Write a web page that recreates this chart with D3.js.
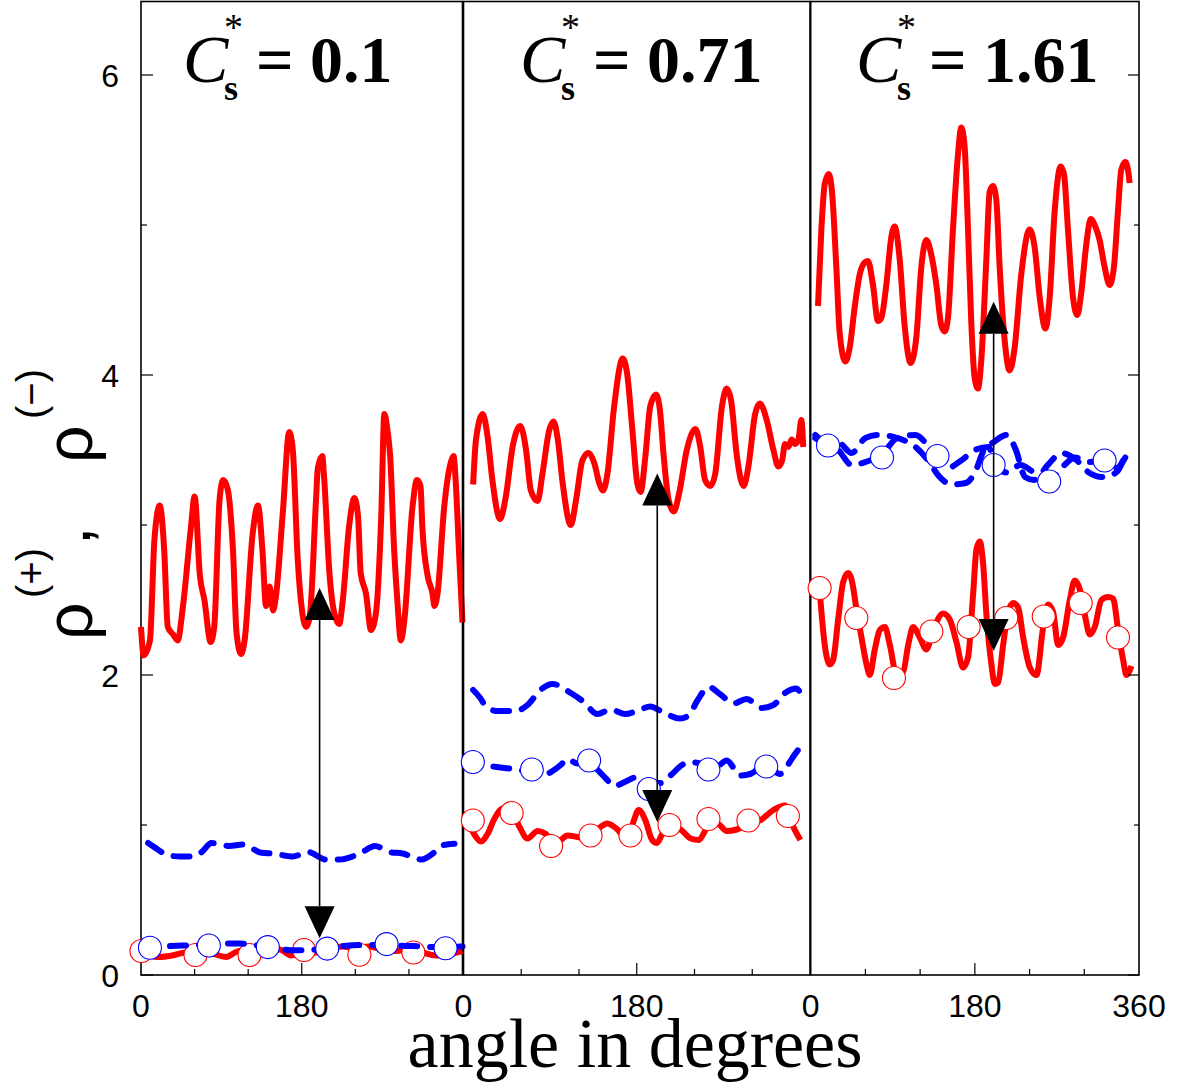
<!DOCTYPE html>
<html><head><meta charset="utf-8">
<script src="https://cdn.jsdelivr.net/npm/d3@7"></script>
<style>body{margin:0;background:#fff} svg{display:block}</style>
</head><body>
<svg id="chart" width="1184" height="1089"></svg>
<script>
// ---------------- DATA ----------------
const panelValues = ["0.1", "0.71", "1.61"];
const xTickLabels = [["0", "180"], ["0", "180"], ["0", "180", "360"]];
const xTickAngles = [[0, 180], [0, 180], [0, 180, 360]];
const xMinorTicks = [60, 120, 240, 300];
const xMajorTicks = [180];
const yMajorTicks = [0, 2, 4, 6];
const yMinorTicks = [1, 3, 5];
const yTickLabels = ["0", "2", "4", "6"];

// Panel 1 (C*s = 0.1)  [angle, rho]
const p1RedTop = [[0,2.32],[3,2.13],[10,2.23],[15,2.9],[21,3.13],[26,2.83],[30,2.32],[36,2.27],[41,2.23],[47,2.46],[56,2.99],[60,3.19],[66,2.66],[71,2.5],[78,2.22],[82,2.32],[88,3.17],[92,3.3],[97,3.24],[103,2.83],[107,2.28],[112,2.14],[116,2.23],[125,2.94],[131,3.13],[136,2.83],[140,2.46],[144,2.59],[148,2.43],[151,2.52],[159,3.1],[166,3.62],[170,3.5],[175.5,2.77],[179,2.5],[185,2.32],[189,2.39],[196,3.17],[198,3.38],[203,3.46],[205,3.32],[211,2.68],[216.5,2.41],[222,2.34],[226,2.5],[233,2.99],[239,3.18],[243,3.06],[246,2.68],[252,2.54],[257.5,2.3],[263,2.41],[269,3.06],[272.5,3.74],[276,3.63],[279,3.46],[283.5,2.83],[287,2.5],[291,2.23],[295,2.37],[304,3.12],[309,3.3],[313,3.26],[315,2.99],[321,2.66],[326.5,2.54],[328.5,2.46],[332,2.54],[339.5,3.12],[347,3.42],[350,3.46],[352.5,3.28],[356,2.83],[360,2.35]];
const p1BlueTop = [[8,0.88],[18,0.84],[29,0.8],[44,0.79],[58,0.79],[68,0.82],[79,0.88],[99,0.86],[114,0.87],[135,0.815],[148,0.81],[170,0.79],[187,0.82],[207,0.77],[222,0.77],[245,0.81],[262,0.86],[278,0.82],[293,0.81],[314,0.77],[329,0.82],[338,0.865],[351,0.875]];
const p1RedLow = [[0,0.15],[10,0.13],[20,0.12],[35,0.13],[50,0.15],[65,0.14],[80,0.14],[95,0.12],[110,0.16],[125,0.15],[140,0.17],[155,0.17],[168,0.13],[180,0.15],[195,0.15],[210,0.17],[225,0.19],[240,0.18],[255,0.19],[270,0.17],[285,0.16],[300,0.17],[315,0.15],[330,0.13],[345,0.14],[360,0.16]];
const p1RedMarks = [[0.5,0.16],[61,0.133],[121.5,0.133],[182.5,0.167],[244.5,0.135],[305,0.15]];
const p1BlueLow = [[0,0.19],[20,0.19],[40,0.195],[60,0.2],[85,0.21],[110,0.21],[125,0.2],[145,0.19],[160,0.17],[175,0.165],[190,0.167],[210,0.18],[230,0.195],[250,0.2],[270,0.2],[290,0.195],[305,0.193],[325,0.186],[345,0.19],[360,0.19]];
const p1BlueMarks = [[10,0.182],[76,0.197],[142,0.186],[208.5,0.176],[275,0.206],[341,0.178]];

// Panel 2 (C*s = 0.71)
const p2RedTop = [[10,3.27],[13,3.57],[20,3.74],[25,3.59],[30,3.3],[38,3.04],[44,3.19],[51,3.52],[59,3.66],[65,3.5],[70,3.23],[77,3.16],[82,3.34],[89,3.63],[93.5,3.69],[98,3.57],[103,3.28],[111.5,3.0],[117,3.17],[123.5,3.43],[130,3.48],[136,3.41],[141,3.28],[145,3.23],[149.5,3.34],[156.5,3.79],[165.5,4.11],[170,4.01],[175.5,3.63],[180.5,3.28],[184,3.22],[189,3.46],[194,3.79],[200,3.87],[204,3.77],[208,3.46],[213,3.17],[218.5,3.09],[224,3.21],[232,3.5],[241,3.64],[246,3.52],[251,3.3],[256.5,3.26],[261.5,3.34],[268.5,3.79],[273.5,3.91],[278,3.83],[284,3.46],[291,3.26],[296,3.39],[303,3.74],[308,3.81],[315,3.7],[322,3.5],[327,3.39],[331,3.43],[334,3.54],[337.5,3.52],[341,3.57],[344.5,3.54],[348,3.57],[351,3.7],[353,3.52]];
const p2BlueTop = [[10,1.9],[17,1.85],[23.5,1.79],[35.5,1.76],[54.5,1.76],[66.5,1.8],[80,1.9],[92.5,1.94],[111.5,1.88],[125,1.82],[139,1.74],[153,1.77],[168,1.74],[184,1.77],[194,1.79],[205,1.76],[225,1.71],[234,1.73],[243,1.83],[255,1.92],[267,1.87],[280.5,1.81],[294,1.84],[310,1.78],[322,1.8],[334,1.88],[346,1.91],[350,1.88]];
const p2RedLow = [[3,1.04],[11,0.94],[18,0.89],[25,0.94],[32,1.04],[41,1.11],[49.5,1.1],[58,0.99],[66.5,0.91],[77,0.96],[85.5,0.94],[94,0.88],[101,0.9],[108,0.93],[118.5,0.92],[128.5,0.91],[139,0.97],[149.5,1.01],[160,0.97],[170,0.9],[177,1.03],[182,1.1],[189,1.03],[196,0.9],[201,0.88],[206.5,0.94],[215,0.99],[225.5,0.97],[236,0.91],[244.5,0.9],[253,0.98],[263.5,1.01],[273.5,0.96],[284,0.97],[294.5,1.0],[308,1.03],[322,1.1],[334,1.13],[342.5,0.99],[350,0.9]];
const p2RedMarks = [[9.7,1.03],[50,1.08],[91,0.86],[132,0.93],[173.5,0.93],[214,1.0],[254.5,1.04],[296,1.03],[337,1.06]];
const p2BlueLow = [[1,1.4],[18,1.4],[30,1.39],[42.5,1.38],[58,1.37],[70,1.34],[82.5,1.33],[92.5,1.36],[101,1.4],[108,1.44],[118.5,1.41],[130.5,1.43],[139,1.37],[148,1.31],[156.5,1.26],[168.5,1.29],[180.5,1.32],[192.5,1.28],[204.5,1.28],[215,1.33],[227,1.4],[234,1.42],[246,1.41],[254.5,1.37],[264,1.39],[273.5,1.43],[287.5,1.33],[298,1.34],[313.5,1.4],[329,1.34],[339,1.42],[343,1.46],[350,1.52]];
const p2BlueMarks = [[9.7,1.42],[71,1.37],[130.5,1.43],[192.5,1.24],[254.5,1.37],[314.5,1.39]];

// Panel 3 (C*s = 1.61)
const p3RedTop = [[8,4.46],[11.7,4.97],[15.3,5.27],[19.7,5.34],[23.4,5.22],[28.1,4.72],[31.8,4.28],[38,4.09],[42.7,4.18],[48.2,4.45],[53.7,4.67],[59.2,4.75],[62.8,4.76],[68.3,4.6],[73.8,4.36],[77.4,4.38],[82.9,4.6],[88.4,4.92],[92,4.99],[97.6,4.77],[103,4.33],[109.6,4.08],[115.8,4.25],[121.3,4.72],[126.8,4.9],[132.3,4.8],[137.8,4.6],[143.2,4.33],[146.9,4.29],[150.5,4.38],[156,4.97],[161.5,5.47],[165.2,5.65],[168.8,5.52],[172.5,4.97],[176.1,4.35],[179.8,3.98],[183.4,3.91],[187.1,4.1],[192.6,4.77],[196.2,5.22],[199.9,5.26],[203.5,5.17],[207.2,4.72],[212.7,4.23],[218.2,4.03],[223.6,4.18],[230.9,4.67],[240.1,4.97],[245.6,4.85],[251.1,4.52],[257.3,4.31],[262.1,4.52],[267.5,5.09],[274.1,5.39],[277.7,5.34],[282.1,4.97],[287.6,4.52],[292.3,4.4],[296.7,4.55],[302.2,4.87],[307,5.04],[312.1,4.99],[316.8,4.9],[322.3,4.72],[327.8,4.6],[332.5,4.72],[336.9,5.09],[340.6,5.37],[345,5.42],[348.6,5.34],[349.7,5.28]];
const p3BlueTop = [[5,3.58],[15,3.55],[30,3.55],[45,3.48],[60,3.58],[75,3.6],[95,3.58],[115,3.52],[130,3.42],[140,3.33],[155,3.27],[170,3.28],[180,3.35],[190,3.5],[200,3.55],[215,3.6],[225,3.5],[235,3.32],[245,3.3],[260,3.4],[275,3.48],[290,3.44],[305,3.35],[320,3.32],[335,3.35],[345,3.47]];
const p3RedLow = [[10,2.55],[15.4,2.2],[20.9,2.07],[24.6,2.1],[30.1,2.37],[35.6,2.62],[41.1,2.68],[44.7,2.64],[50.2,2.44],[55.7,2.25],[61.2,2.07],[64.8,2.0],[70.3,2.17],[75.8,2.3],[81.3,2.32],[86.8,2.2],[94.1,2.0],[101.4,2.02],[106.9,2.2],[112.3,2.32],[119.6,2.25],[126.9,2.17],[134.3,2.3],[145.2,2.41],[152.5,2.37],[159.8,2.22],[167.1,2.05],[172.6,2.12],[178.1,2.54],[181.8,2.84],[185.4,2.89],[189.1,2.74],[192.7,2.4],[198.2,2.07],[201.9,1.94],[205.5,1.95],[211,2.2],[216.5,2.42],[222,2.48],[227.5,2.45],[233,2.25],[240.3,2.05],[247.6,2.0],[254.9,2.32],[260.3,2.47],[265.8,2.42],[271.3,2.2],[276.8,2.25],[284.1,2.5],[289.6,2.63],[295.1,2.57],[300.6,2.4],[306.1,2.27],[311.5,2.32],[318.8,2.5],[326.1,2.52],[331.6,2.51],[337.1,2.3],[342.6,2.1],[346.2,2.0],[351.7,2.06]];
const p3RedMarks = [[9.8,2.58],[50,2.38],[91.3,1.98],[132.3,2.29],[173.2,2.32],[214.5,2.38],[255.5,2.39],[296.1,2.48],[337,2.25]];
const p3BlueLow = [[5,3.6],[19,3.53],[30,3.5],[45,3.4],[60,3.42],[78,3.47],[95,3.58],[115,3.6],[130,3.52],[140,3.46],[150,3.38],[165,3.43],[180,3.5],[195,3.52],[201,3.42],[215,3.35],[230,3.4],[245,3.35],[262,3.3],[275,3.38],[290,3.45],[305,3.42],[322,3.43],[335,3.38],[345,3.45]];
const p3BlueMarks = [[19,3.53],[78.2,3.45],[139,3.46],[200.6,3.4],[261.5,3.29],[322.3,3.43]];

// arrows: angle, tip of upward arrowhead, tip of downward arrowhead
const arrowAngles = [200, 201.3, 200.6];
const arrowUpTips = [2.58, 3.344, 4.488];
const arrowDownTips = [0.245, 1.02, 2.16];

// ---------------- LAYOUT ----------------
const svg = d3.select('#chart');
const plotTop = 1.5, plotBottom = 975;
const y = d3.scaleLinear().domain([0, 6.49]).range([plotBottom, plotTop]);
const panelRanges = [[141, 462.5], [463.5, 810], [810.7, 1139]];
const titleX = [183, 520, 856];

const panels = [
  {red: p1RedTop, blue: p1BlueTop, redLow: p1RedLow, redMarks: p1RedMarks, blueLow: p1BlueLow, blueMarks: p1BlueMarks},
  {red: p2RedTop, blue: p2BlueTop, redLow: p2RedLow, redMarks: p2RedMarks, blueLow: p2BlueLow, blueMarks: p2BlueMarks},
  {red: p3RedTop, blue: p3BlueTop, redLow: p3RedLow, redMarks: p3RedMarks, blueLow: p3BlueLow, blueMarks: p3BlueMarks}
];

const RED = '#ff0000', BLUE = '#0000ff';
const sans = "'Liberation Sans', Arial, sans-serif";
const serif = "'Liberation Serif', 'Times New Roman', serif";

panels.forEach((p, i) => {
  const x = d3.scaleLinear().domain([0, 360]).range(panelRanges[i]);
  const g = svg.append('g');
  const line = d3.line().x(d => x(d[0])).y(d => y(d[1])).curve(d3.curveMonotoneX);

  // border
  g.append('rect').attr('x', x(0)).attr('y', plotTop)
    .attr('width', x(360) - x(0)).attr('height', plotBottom - plotTop)
    .attr('fill', 'none').attr('stroke', '#000').attr('stroke-width', 1.6);

  // x ticks (inward)
  xMinorTicks.forEach(t => g.append('line').attr('x1', x(t)).attr('x2', x(t))
    .attr('y1', plotBottom).attr('y2', plotBottom - 6).attr('stroke', '#000').attr('stroke-width', 1.2));
  xMajorTicks.forEach(t => g.append('line').attr('x1', x(t)).attr('x2', x(t))
    .attr('y1', plotBottom).attr('y2', plotBottom - 12).attr('stroke', '#000').attr('stroke-width', 1.2));

  // x tick labels
  xTickAngles[i].forEach((t, k) => g.append('text').attr('x', x(t)).attr('y', 1017)
    .attr('text-anchor', 'middle').attr('font-family', sans).attr('font-size', 32)
    .text(xTickLabels[i][k]));

  // series
  g.append('path').attr('d', line(p.red)).attr('fill', 'none').attr('stroke', RED)
    .attr('stroke-width', 6).attr('stroke-linejoin', 'round');
  g.append('path').attr('d', line(p.blue)).attr('fill', 'none').attr('stroke', BLUE)
    .attr('stroke-width', 6).attr('stroke-dasharray', '16,13').attr('stroke-linecap', 'round');
  g.append('path').attr('d', line(p.redLow)).attr('fill', 'none').attr('stroke', RED)
    .attr('stroke-width', 6).attr('stroke-linejoin', 'round');
  g.selectAll('circle.rm').data(p.redMarks).join('circle').attr('class', 'rm')
    .attr('cx', d => x(d[0])).attr('cy', d => y(d[1])).attr('r', 11.5)
    .attr('fill', '#fff').attr('stroke', RED).attr('stroke-width', 1.1);
  g.append('path').attr('d', line(p.blueLow)).attr('fill', 'none').attr('stroke', BLUE)
    .attr('stroke-width', 6).attr('stroke-dasharray', '16,13').attr('stroke-linecap', 'round');
  g.selectAll('circle.bm').data(p.blueMarks).join('circle').attr('class', 'bm')
    .attr('cx', d => x(d[0])).attr('cy', d => y(d[1])).attr('r', 11.5)
    .attr('fill', '#fff').attr('stroke', BLUE).attr('stroke-width', 1.1);

  // arrow
  const ax = x(arrowAngles[i]);
  const upTip = y(arrowUpTips[i]), downTip = y(arrowDownTips[i]);
  const th = 32, tw = 15;
  g.append('line').attr('x1', ax).attr('x2', ax).attr('y1', upTip + th).attr('y2', downTip - th)
    .attr('stroke', '#000').attr('stroke-width', 1.6);
  g.append('path').attr('d', `M${ax},${upTip}L${ax - tw},${upTip + th}L${ax + tw},${upTip + th}Z`).attr('fill', '#000');
  g.append('path').attr('d', `M${ax},${downTip}L${ax - tw},${downTip - th}L${ax + tw},${downTip - th}Z`).attr('fill', '#000');

  // title
  const tx = titleX[i];
  g.append('text').attr('x', tx).attr('y', 82).attr('font-family', serif).attr('font-style', 'italic')
    .attr('font-size', 68).text('C');
  g.append('text').attr('x', tx + 41).attr('y', 40).attr('font-family', serif)
    .attr('font-size', 38).text('*');
  g.append('text').attr('x', tx + 41).attr('y', 100).attr('font-family', serif).attr('font-weight', 'bold')
    .attr('font-size', 36).text('s');
  g.append('text').attr('x', tx + 73).attr('y', 82).attr('font-family', serif).attr('font-weight', 'bold')
    .attr('font-size', 66).text('= ' + panelValues[i]);
});

// y ticks: left of panel 1, right of panel 3
const xl = panelRanges[0][0], xr = panelRanges[2][1];
yMajorTicks.forEach((t, k) => {
  svg.append('line').attr('x1', xl).attr('x2', xl + 12).attr('y1', y(t)).attr('y2', y(t)).attr('stroke', '#000').attr('stroke-width', 1.2);
  svg.append('line').attr('x1', xr).attr('x2', xr - 11).attr('y1', y(t)).attr('y2', y(t)).attr('stroke', '#000').attr('stroke-width', 1.2);
  svg.append('text').attr('x', 119).attr('y', y(t) + 11.5).attr('text-anchor', 'end')
    .attr('font-family', sans).attr('font-size', 32).text(yTickLabels[k]);
});
yMinorTicks.forEach(t => {
  svg.append('line').attr('x1', xl).attr('x2', xl + 6).attr('y1', y(t)).attr('y2', y(t)).attr('stroke', '#000').attr('stroke-width', 1.2);
  svg.append('line').attr('x1', xr).attr('x2', xr - 5).attr('y1', y(t)).attr('y2', y(t)).attr('stroke', '#000').attr('stroke-width', 1.2);
});

// axis titles
svg.append('text').attr('x', 635).attr('y', 1067).attr('text-anchor', 'middle')
  .attr('font-family', serif).attr('font-size', 70).text('angle in degrees');

const yLabelParts = [
  {t: 'ρ', x: 92, y: 640, s: 66},
  {t: '(+)', x: 45, y: 598, s: 40},
  {t: ',', x: 90, y: 545, s: 66},
  {t: 'ρ', x: 92, y: 463, s: 66},
  {t: '(−)', x: 45, y: 419, s: 40}
];
yLabelParts.forEach(d => svg.append('text')
  .attr('transform', `translate(${d.x},${d.y}) rotate(-90)`)
  .attr('font-family', sans).attr('font-size', d.s).text(d.t));
</script>
</body></html>
